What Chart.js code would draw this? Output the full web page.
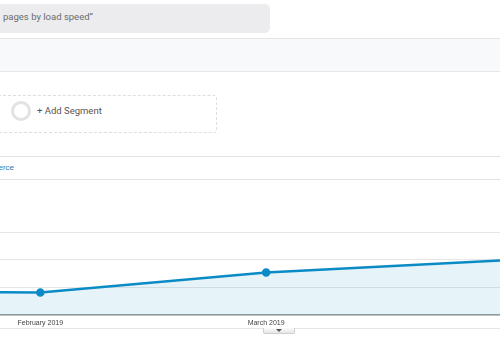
<!DOCTYPE html>
<html>
<head>
<meta charset="utf-8">
<script src="https://cdn.jsdelivr.net/npm/chart.js@4"></script>
<style>
  body { margin: 0; width: 500px; height: 350px; overflow: hidden; background: #fff; position: relative; font-family: Roboto, Arial, sans-serif; }
  .abs { position: absolute; }
  .search { left: -12px; top: 4px; width: 282px; height: 29px; background: #ececef; border-radius: 5px; }
  .search-text { left: 3px; top: 11px; font-size: 9.5px; color: #6b6b6b; white-space: nowrap; }
  .band { left: 0; top: 38px; width: 500px; height: 32px; background: #f8f9fa; border-top: 1px solid #e4e4e6; border-bottom: 1px solid #e6e6e8; }
  .segment { left: -20px; top: 95px; width: 235px; height: 36px; border: 1px dashed #dedede; border-radius: 3px; }
  .circle { left: 11px; top: 101px; width: 14px; height: 14px; border: 3px solid #e2e2e2; border-radius: 50%; }
  .seg-text { left: 37px; top: 105px; font-size: 9.5px; color: #555; white-space: nowrap; }
  .hline { left: 0; width: 500px; height: 1px; background: #e2e2e2; }
  .tab-link { right: 486px; top: 163px; font-family: Arial, "Liberation Sans", sans-serif; font-size: 8px; color: #2b78b6; white-space: nowrap; }
  .chart-box { left: 0; top: 180px; width: 500px; height: 160px; }
  .handle { left: 263px; top: 328px; width: 30px; height: 5px; background: linear-gradient(#fafafa, #e6e6e6); border: 1px solid #cfcfcf; border-top: none; border-radius: 0 0 2px 2px; }
  .arrow { left: 276px; top: 329px; width: 0; height: 0; border-left: 3px solid transparent; border-right: 3px solid transparent; border-top: 3px solid #555; }
</style>
</head>
<body>
<div class="abs search"></div>
<div class="abs search-text">pages by load speed”</div>
<div class="abs band"></div>
<div class="abs segment"></div>
<div class="abs circle"></div>
<div class="abs seg-text">+ Add Segment</div>
<div class="abs hline" style="top:156px"></div>
<div class="abs tab-link">Ecommerce</div>
<div class="abs hline" style="top:179px"></div>
<div class="abs chart-box"><canvas id="chart" width="500" height="160"></canvas></div>
<div class="abs hline" style="top:328px;background:#e6e6e6"></div>
<div class="abs handle"></div>
<div class="abs arrow"></div>
<script>
// months as day-of-year positions (2019)
const months = ["January 2019", "February 2019", "March 2019", "April 2019"];
const monthDays = [0, 31, 59, 90];
const values = [9.0, 8.1, 15.4, 20.0];
const labeledDays = [31, 59];

const ctx = document.getElementById("chart").getContext("2d");
new Chart(ctx, {
  type: "line",
  data: {
    datasets: [{
      data: monthDays.map((d, i) => ({ x: d, y: values[i] })),
      borderColor: "#0b8bc6",
      borderWidth: 2.5,
      backgroundColor: "rgba(5,141,199,0.1)",
      fill: "origin",
      tension: 0,
      pointRadius: 3,
      pointBackgroundColor: "#0b8bc6",
      pointBorderColor: "#0b8bc6",
    }],
  },
  options: {
    responsive: false,
    animation: false,
    layout: { autoPadding: false, padding: { top: 52, left: 0, right: 0, bottom: 0 } },
    plugins: { legend: { display: false }, tooltip: { enabled: false } },
    scales: {
      x: {
        type: "linear",
        min: 26,
        max: 88,
        z: 1,
        afterBuildTicks: (s) => { s.ticks = labeledDays.map((v) => ({ value: v })); },
        afterFit: (s) => {
          s.height = 25;
          s.paddingLeft = 0;
          s.paddingRight = 0;
        },
        grid: { display: false, drawTicks: false },
        border: { display: true, color: "#9a9a9a", width: 1.5 },
        ticks: {
          padding: 4,
          maxRotation: 0,
          autoSkip: false,
          color: "#444",
          font: { family: "Arial, 'Liberation Sans', sans-serif", size: 7 },
          callback: (v) => months[monthDays.indexOf(v)],
        },
      },
      y: {
        min: 0,
        max: 30,
        afterFit: (s) => {
          s.width = 0;
          s.paddingTop = 0;
          s.paddingBottom = 0;
        },
        ticks: { display: false, stepSize: 10 },
        grid: { color: "#e6e6e6", drawTicks: false },
        border: { display: false },
      },
    },
  },
});
</script>
</body>
</html>
